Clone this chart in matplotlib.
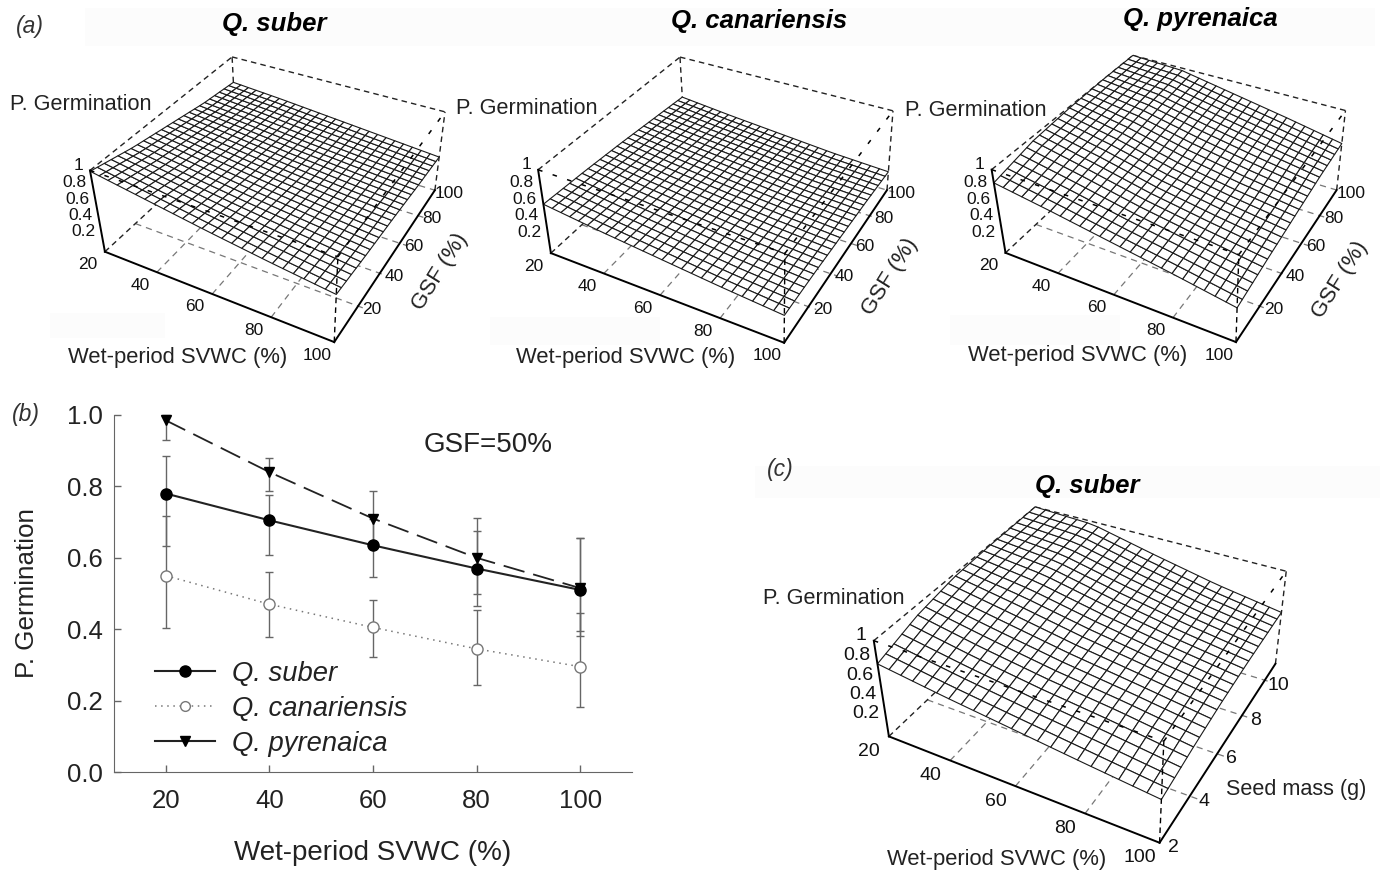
import numpy as np
import matplotlib
matplotlib.use('Agg')
import matplotlib.pyplot as plt
from matplotlib.lines import Line2D
from matplotlib.patches import Rectangle
from mpl_toolkits.mplot3d import proj3d

plt.rcParams['font.family'] = ['Liberation Sans', 'DejaVu Sans']

W, H = 1380, 871

# panel (b)
svwc = [20, 40, 60, 80, 100]
suber = [0.78, 0.705, 0.635, 0.57, 0.51]
suber_lo = [0.634, 0.607, 0.546, 0.464, 0.382]
suber_hi = [0.885, 0.777, 0.71, 0.676, 0.655]
canar = [0.55, 0.47, 0.405, 0.345, 0.295]
canar_lo = [0.403, 0.378, 0.322, 0.245, 0.182]
canar_hi = [0.717, 0.56, 0.483, 0.455, 0.444]
pyren = [0.985, 0.84, 0.71, 0.60, 0.515]
pyren_lo = [0.93, 0.786, 0.63, 0.499, 0.394]
pyren_hi = [1.0, 0.88, 0.787, 0.711, 0.655]

# surfaces, read at these nodes: rows are SVWC, columns GSF or seed mass
gsf_nodes = [0, 25, 50, 75, 100]
seed_nodes = [2, 4, 6, 8, 11]
gsf_ticks = [20, 40, 60, 80, 100]
seed_ticks = [2, 4, 6, 8, 10]
z_ticks = [0.2, 0.4, 0.6, 0.8, 1]
z_labels = ['0.2', '0.4', '0.6', '0.8', '1']

surf_suber = [[0.99, 0.88, 0.80, 0.72, 0.67],
              [0.88, 0.79, 0.72, 0.66, 0.62],
              [0.77, 0.70, 0.64, 0.59, 0.56],
              [0.67, 0.62, 0.57, 0.53, 0.50],
              [0.58, 0.54, 0.51, 0.47, 0.44]]
surf_canar = [[0.60, 0.58, 0.55, 0.51, 0.47],
              [0.52, 0.50, 0.47, 0.44, 0.40],
              [0.45, 0.43, 0.40, 0.38, 0.34],
              [0.38, 0.36, 0.34, 0.31, 0.28],
              [0.32, 0.31, 0.29, 0.27, 0.24]]
surf_pyren = [[0.85, 0.95, 0.985, 1.0, 1.0],
              [0.75, 0.82, 0.87, 0.93, 0.97],
              [0.64, 0.68, 0.72, 0.80, 0.85],
              [0.53, 0.57, 0.61, 0.68, 0.73],
              [0.41, 0.47, 0.52, 0.57, 0.60]]
surf_seed = [[0.77, 0.90, 0.97, 0.99, 1.0],
             [0.68, 0.78, 0.86, 0.92, 0.97],
             [0.60, 0.68, 0.74, 0.78, 0.82],
             [0.52, 0.60, 0.64, 0.66, 0.68],
             [0.445, 0.50, 0.54, 0.56, 0.57]]

# where the box corners sit in the picture: A, B, C, A', B', C', D'
view_suber = [(105, 252), (334, 342), (435, 190), (90, 170), (338, 257), (445, 112), (232, 57)]
view_canar = [(551, 253), (784, 343), (887, 190), (538, 170), (785, 253), (893, 111), (680, 57)]
view_pyren = [(1006, 252), (1235, 343), (1337, 190), (991, 171), (1240, 253), (1345, 111), (1133, 55)]
view_seed = [(889, 737), (1160, 843), (1275, 663), (874, 640), (1163, 741), (1287, 572), (1035, 507)]

UNIT = [(0, 0, 0), (1, 0, 0), (1, 1, 0), (0, 0, 1), (1, 0, 1), (1, 1, 1), (0, 1, 1)]


def fit_proj(ax, view, ylim):
    """Camera matrix for the Axes3D, solved from the box corners."""
    pts = np.array(view, dtype=float)
    pts[:, 1] = H - pts[:, 1]
    uv = ax.transData.inverted().transform(pts)
    rows = []
    for (x, y, z), (u, v) in zip(UNIT, uv):
        rows.append([x, y, z, 1, 0, 0, 0, 0, -u * x, -u * y, -u * z, -u])
        rows.append([0, 0, 0, 0, x, y, z, 1, -v * x, -v * y, -v * z, -v])
    P = np.linalg.svd(np.array(rows))[2][-1].reshape(3, 4)
    dx, dy = 80.0, float(ylim[1] - ylim[0])
    N = np.array([[1 / dx, 0, 0, -20 / dx],
                  [0, 1 / dy, 0, -ylim[0] / dy],
                  [0, 0, 1, 0],
                  [0, 0, 0, 1]])
    P = P @ N
    return np.vstack([P[0], P[1], P[2] + [0, 0, 1, 0], P[2]])


def refine(table, ynodes, ylim, n):
    xg = np.linspace(20, 100, n)
    yg = np.linspace(ylim[0], ylim[1], n)
    t = np.array(table)
    by_y = np.array([np.interp(yg, ynodes, row) for row in t])
    zg = np.array([np.interp(xg, svwc, by_y[:, j]) for j in range(n)])
    X, Y = np.meshgrid(xg, yg)
    return X, Y, zg


def surface_panel(view, table, ynodes, ylim, yticks, size=12.5, n=26, xoff=(-17, 13),
                  yoff=(14, 3), zoff=(-7, -5)):
    cx = np.mean([p[0] for p in view])
    cy = np.mean([p[1] for p in view])
    side = 560
    ax = fig.add_axes([(cx - side / 2) / W, (H - cy - side / 2) / H, side / W, side / H],
                      projection='3d', computed_zorder=False, proj_type='ortho')
    ax.set_axis_off()
    ax.patch.set_visible(False)
    M = fit_proj(ax, view, ylim)
    ax.get_proj = lambda: M

    x0, x1 = 20, 100
    y0, y1 = ylim
    dy = y1 - y0

    # floor grid, behind the surface
    floor = dict(color='#777777', lw=0.9, ls=(0, (5, 4)), zorder=1)
    for t in svwc[1:-1]:
        ax.plot([t, t], [y0, y1], [0, 0], **floor)
    for t in yticks:
        if t > y0 + 0.01 * dy:
            ax.plot([x0, x1 + 0.03 * 80], [t, t], [0, 0], **floor)
    back = dict(color='#222222', lw=1.0, ls=(0, (4, 3)), zorder=1)
    ax.plot([x0, x0], [y0, y1], [0, 0], **back)
    ax.plot([x0, x0], [y0, y1], [1, 1], **back)
    ax.plot([x0, x1], [y1, y1], [1, 1], **back)
    ax.plot([x0, x0], [y1, y1], [0, 1], **back)
    ax.plot([x1, x1], [y1, y1], [0, 1], **back)

    X, Y, Z = refine(table, ynodes, ylim, n)
    ax.plot_surface(X, Y, Z, rstride=1, cstride=1, color='white', edgecolor='#1a1a1a',
                    linewidth=0.8, shade=False, zorder=2)

    # front edges of the box run over the surface
    front = dict(color='black', lw=1.1, ls=(0, (3, 7)), zorder=3)
    ax.plot([x0, x1], [y0, y0], [1, 1], **front)
    ax.plot([x1, x1], [y0, y1], [1, 1], **front)
    ax.plot([x1, x1], [y0, y0], [0, 1], color='black', lw=1.0, ls=(0, (4, 3)), zorder=3)

    solid = dict(color='black', lw=1.4, zorder=3)
    ax.plot([x0, x0], [y0, y0], [0, 1], **solid)
    ax.plot([x0, x1], [y0, y0], [0, 0], **solid)
    ax.plot([x1, x1], [y0, y1], [0, 0], **solid)

    def tick_label(x, y, z, s, off, ha='center'):
        u, v, _ = proj3d.proj_transform(x, y, z, M)
        px, py = ax.transData.transform((u, v))
        fig.text((px + off[0]) / W, (py - off[1]) / H, s, fontsize=size, ha=ha, va='center',
                 color='#111111')

    for t in svwc:
        tick_label(t, y0, 0, str(t), xoff)
    for t in yticks:
        tick_label(x1, t, 0, str(t), yoff)
    for t, s in zip(z_ticks, z_labels):
        tick_label(x0, y0, t, s, zoff, ha='right')
    return ax


def put(x, y, s, **kw):
    kw.setdefault('ha', 'center')
    kw.setdefault('va', 'center')
    fig.text(x / W, 1 - y / H, s, **kw)


fig = plt.figure(figsize=(W / 100, H / 100), dpi=100)

# faint scan marks behind the labels
for x, y, w, h in [(85, 8, 1290, 38), (755, 466, 625, 32), (50, 313, 115, 25),
                   (490, 317, 170, 28), (950, 315, 170, 30)]:
    fig.add_artist(Rectangle((x / W, 1 - (y + h) / H), w / W, h / H, transform=fig.transFigure,
                             color='#fcfcfc', lw=0, zorder=-5))

surface_panel(view_suber, surf_suber, gsf_nodes, (0, 100), gsf_ticks)
surface_panel(view_canar, surf_canar, gsf_nodes, (0, 100), gsf_ticks)
surface_panel(view_pyren, surf_pyren, gsf_nodes, (0, 100), gsf_ticks, n=25)
surface_panel(view_seed, surf_seed, seed_nodes, (2, 11), seed_ticks, size=14, n=23,
              xoff=(-20, 15), yoff=(14, 5), zoff=(-7, -5))

# texts around the surfaces
title = dict(fontsize=18.5, fontweight='bold', style='italic')
put(274, 24, 'Q. suber', **title)
put(759, 21, 'Q. canariensis', **title)
put(1200, 19, 'Q. pyrenaica', **title)
put(1087, 486, 'Q. suber', **title)

for x, y, s in [(30, 27, '(a)'), (26, 415, '(b)'), (780, 469, '(c)')]:
    put(x, y, s, fontsize=16.5, style='italic', color='#333333')

for x, y in [(10, 105), (456, 108), (905, 111), (763, 598)]:
    put(x, y, 'P. Germination', fontsize=15.6, ha='left', color='#222222')

for x, y in [(178, 358), (626, 358), (1078, 355), (997, 859)]:
    put(x, y, 'Wet-period SVWC (%)', fontsize=15.8, color='#222222')

for x, y in [(440, 272), (890, 277), (1340, 280)]:
    put(x, y, 'GSF (%)', fontsize=16, rotation=58, rotation_mode='anchor', color='#222222')
put(1296, 789, 'Seed mass (g)', fontsize=15.6, color='#222222')

# panel (b)
ax = fig.add_axes([114 / W, 1 - 772 / H, (632 - 114) / W, (772 - 415) / H])
ax.patch.set_alpha(0)
x = np.array(svwc)
for y, lo, hi in [(suber, suber_lo, suber_hi), (canar, canar_lo, canar_hi), (pyren, pyren_lo, pyren_hi)]:
    ax.errorbar(x, y, yerr=[np.array(y) - lo, np.array(hi) - y], fmt='none', ecolor='#666666',
                elinewidth=1, capsize=3, capthick=1, zorder=2, clip_on=False)
ax.plot(x, canar, color='#777777', lw=1.1, ls=(0, (1, 3)), marker='o', ms=8, mfc='white',
        mec='#777777', mew=1, zorder=3)
ax.plot(x, pyren, color='#222222', lw=1.3, ls=(0, (12, 5)), marker='v', ms=7.5, mfc='black',
        mec='black', zorder=4, clip_on=False)
ax.plot(x, suber, color='#222222', lw=1.5, marker='o', ms=8, mfc='black', mec='black', zorder=5)

ax.set_xlim(10, 110)
ax.set_ylim(0, 1)
ax.set_xticks(svwc)
ax.set_yticks([0, 0.2, 0.4, 0.6, 0.8, 1.0])
ax.set_yticklabels(['0.0', '0.2', '0.4', '0.6', '0.8', '1.0'])
ax.tick_params(direction='in', length=5, width=1, color='#666666', labelsize=18.5,
               labelcolor='#222222', pad=12)
ax.tick_params(axis='y', pad=8)
for s in ('top', 'right'):
    ax.spines[s].set_visible(False)
for s in ('left', 'bottom'):
    ax.spines[s].set_color('#666666')
ax.set_xlabel('Wet-period SVWC (%)', fontsize=20, color='#222222', labelpad=20)
ax.set_ylabel('P. Germination', fontsize=18.7, color='#222222', labelpad=20)
put(488, 445, 'GSF=50%', fontsize=20, color='#222222')

handles = [
    Line2D([], [], color='#222222', lw=1.5, marker='o', ms=8, mfc='black', mec='black'),
    Line2D([], [], color='#777777', lw=1.1, ls=(0, (1, 3)), marker='o', ms=7, mfc='white', mec='#777777'),
    Line2D([], [], color='#222222', lw=1.5, marker='v', ms=7.5, mfc='black', mec='black'),
]
ax.legend(handles, ['Q. suber', 'Q. canariensis', 'Q. pyrenaica'], frameon=False,
          prop=dict(size=19.7, style='italic'), labelcolor='#222222', handlelength=2.2,
          handletextpad=0.62, labelspacing=0.33, loc='lower left',
          bbox_to_anchor=(155 / W, 1 - 757 / H), bbox_transform=fig.transFigure,
          borderpad=0, borderaxespad=0)

fig.savefig('out.png', dpi=100)
